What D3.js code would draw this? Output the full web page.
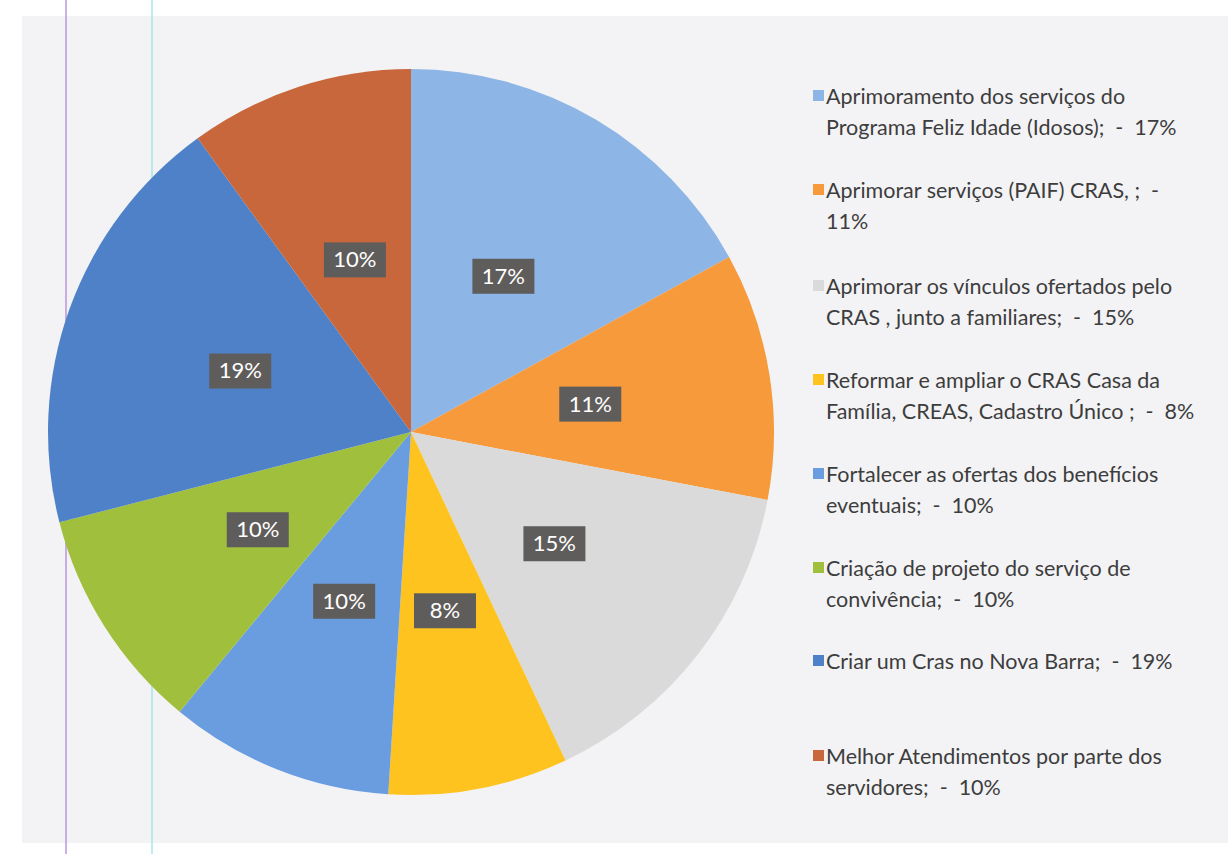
<!DOCTYPE html>
<html>
<head>
<meta charset="utf-8">
<script src="https://cdn.jsdelivr.net/npm/d3@7"></script>
<style>
  body { margin: 0; background: #ffffff; }
  svg { display: block; }
  text { white-space: pre; }
</style>
</head>
<body>
<script>
// slice data, clockwise from 12 o'clock
var categories = [
    "Aprimoramento dos serviços do Programa Feliz Idade (Idosos);",
    "Aprimorar serviços (PAIF) CRAS, ;",
    "Aprimorar os vínculos ofertados pelo CRAS , junto a familiares;",
    "Reformar e ampliar o CRAS Casa da Família, CREAS, Cadastro Único ;",
    "Fortalecer as ofertas dos benefícios eventuais;",
    "Criação de projeto do serviço de convivência;",
    "Criar um Cras no Nova Barra;",
    "Melhor Atendimentos por parte dos servidores;"
];
var values = [17, 11, 15, 8, 10, 10, 19, 10];
var colors = ["#8db5e6", "#f69a3c", "#dadada", "#fec31f", "#6a9de0", "#a0bf3c", "#4e81c7", "#c8663c"];

// legend lines as they wrap in the original
var legendLines = [
    ["Aprimoramento dos serviços do", "Programa Feliz Idade (Idosos);  -  17%"],
    ["Aprimorar serviços (PAIF) CRAS, ;  -", "11%"],
    ["Aprimorar os vínculos ofertados pelo", "CRAS , junto a familiares;  -  15%"],
    ["Reformar e ampliar o CRAS Casa da", "Família, CREAS, Cadastro Único ;  -  8%"],
    ["Fortalecer as ofertas dos benefícios", "eventuais;  -  10%"],
    ["Criação de projeto do serviço de", "convivência;  -  10%"],
    ["Criar um Cras no Nova Barra;  -  19%"],
    ["Melhor Atendimentos por parte dos", "servidores;  -  10%"]
];
var legendY = [96, 190, 286, 380, 474, 568, 661, 756];

var width = 1228,
    height = 854;

var svg = d3.select("body")
    .append("svg")
    .attr("width", width)
    .attr("height", height);

//scanned page background
svg.append("rect")
    .attr("x", 22).attr("y", 16)
    .attr("width", width - 22).attr("height", 827)
    .attr("fill", "#f3f3f5");

//stray guide lines from the scan
svg.append("line")
    .attr("x1", 66).attr("x2", 66).attr("y1", 0).attr("y2", height)
    .attr("stroke", "#a87fd6").attr("stroke-width", 1.2);
svg.append("line")
    .attr("x1", 152).attr("x2", 152).attr("y1", 0).attr("y2", height)
    .attr("stroke", "#8fe3e8").attr("stroke-width", 1.2);

var cx = 411, cy = 432, radius = 363;

var pie = d3.pie().sort(null).value(function(d){ return d; });
var arc = d3.arc().innerRadius(0).outerRadius(radius);
var labelArc = d3.arc().innerRadius(radius * 0.5).outerRadius(radius * 0.5);

var g = svg.append("g").attr("transform", "translate(" + cx + "," + cy + ")");

var slices = g.selectAll(".slice")
    .data(pie(values))
    .enter()
    .append("path")
    .attr("class", "slice")
    .attr("d", arc)
    .attr("fill", function(d, i){ return colors[i]; });

//data labels in dark boxes
var labels = g.selectAll(".lbl")
    .data(pie(values))
    .enter()
    .append("g")
    .attr("class", "lbl")
    .attr("transform", function(d){ return "translate(" + labelArc.centroid(d) + ")"; });

labels.append("rect")
    .attr("x", -31).attr("y", -17)
    .attr("width", 62).attr("height", 35)
    .attr("fill", "#5f5d5b");

labels.append("text")
    .attr("text-anchor", "middle")
    .attr("dy", "0.36em")
    .attr("font-family", "Lato, 'Open Sans', sans-serif")
    .attr("font-size", 22)
    .attr("fill", "#ffffff")
    .text(function(d){ return d.data + "%"; });

//legend
var legend = svg.selectAll(".legend")
    .data(legendLines)
    .enter()
    .append("g")
    .attr("class", "legend")
    .attr("transform", function(d, i){ return "translate(813," + legendY[i] + ")"; });

legend.append("rect")
    .attr("x", 0).attr("y", -6)
    .attr("width", 11).attr("height", 11)
    .attr("fill", function(d, i){ return colors[i]; });

legend.selectAll("text")
    .data(function(d){ return d; })
    .enter()
    .append("text")
    .attr("x", 13)
    .attr("y", function(d, j){ return j * 31; })
    .attr("dy", "0.35em")
    .attr("font-family", "Lato, 'Open Sans', sans-serif")
    .attr("font-size", 21.5)
    .attr("fill", "#3d3d3d")
    .text(function(d){ return d; });
</script>
</body>
</html>
